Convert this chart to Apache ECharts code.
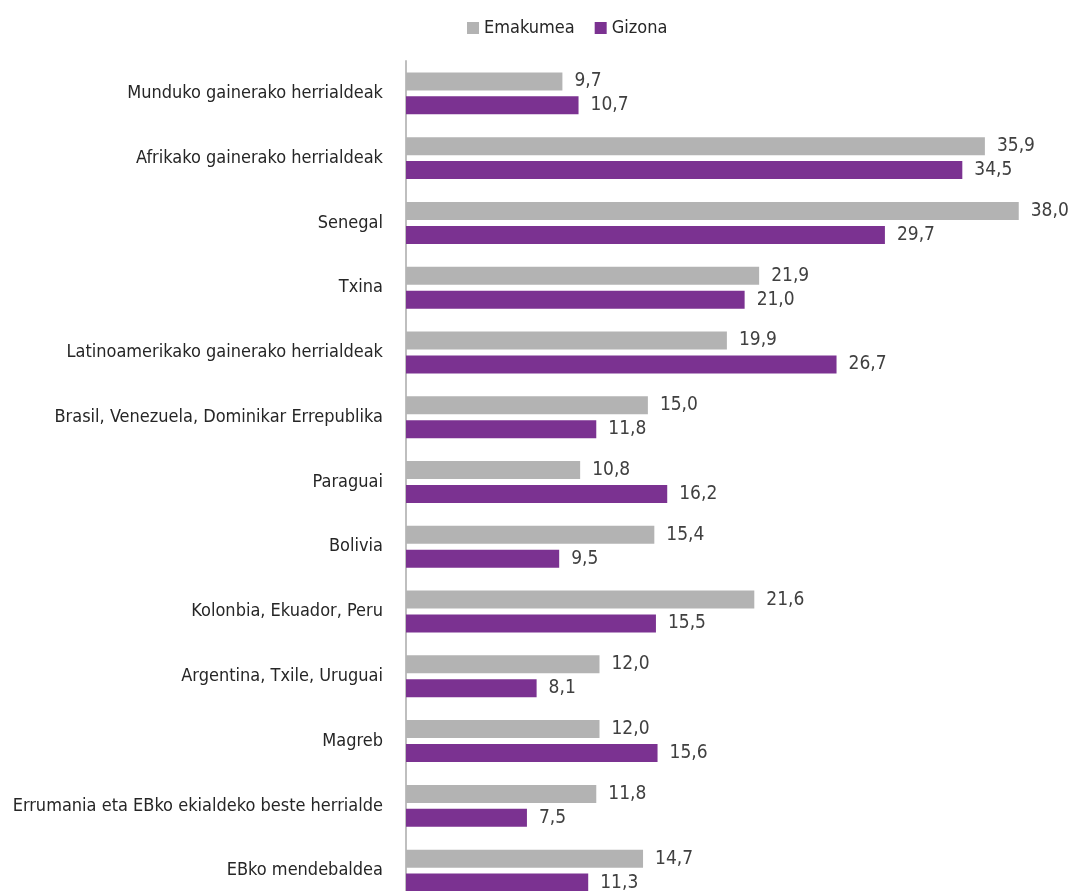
<!DOCTYPE html>
<html><head><meta charset="utf-8">
<script src="https://cdn.jsdelivr.net/npm/echarts@6/dist/echarts.min.js"></script>
<style>html,body{margin:0;padding:0;overflow:hidden;background:#fff}#c{width:1074px;height:910px}</style>
</head><body><div id="c"></div>
<script>
var categories = ["Munduko gainerako herrialdeak","Afrikako gainerako herrialdeak","Senegal","Txina","Latinoamerikako gainerako herrialdeak","Brasil, Venezuela, Dominikar Errepublika","Paraguai","Bolivia","Kolonbia, Ekuador, Peru","Argentina, Txile, Uruguai","Magreb","Errumania eta EBko ekialdeko beste herrialde","EBko mendebaldea"];
var emakumea = [9.7,35.9,38.0,21.9,19.9,15.0,10.8,15.4,21.6,12.0,12.0,11.8,14.7];
var gizona = [10.7,34.5,29.7,21.0,26.7,11.8,16.2,9.5,15.5,8.1,15.6,7.5,11.3];
var seriesNames = ["Emakumea","Gizona"];
var FONT = "'DejaVu Sans Condensed','Liberation Sans Narrow',sans-serif";
var chart = echarts.init(document.getElementById('c'), null, {renderer:'canvas'});
var fmt = function(p){ return p.value.toFixed(1).replace('.', ','); };
chart.setOption({
  animation:false,
  textStyle:{fontFamily:FONT},
  legend:{top:14,left:462,itemWidth:12,itemHeight:12,itemGap:20,icon:'rect',
    textStyle:{fontFamily:FONT,fontSize:18,color:'#262626'},data:seriesNames},
  grid:{left:406,right:23,top:61,bottom:7,containLabel:false,outerBoundsMode:'none'},
  xAxis:{type:'value',min:0,max:40,show:false},
  yAxis:{type:'category',inverse:true,data:categories,
    axisLine:{show:true,lineStyle:{color:'#BFBFBF',width:2}},axisTick:{show:false},
    axisLabel:{fontFamily:FONT,fontSize:18,color:'#262626',margin:23}},
  series:[
    {name:seriesNames[0],type:'bar',data:emakumea,barWidth:18,barGap:'33%',
      itemStyle:{color:'#B3B3B3'},
      label:{show:true,position:'right',distance:12,formatter:fmt,fontFamily:FONT,fontSize:19,color:'#404040'}},
    {name:seriesNames[1],type:'bar',data:gizona,barWidth:18,
      itemStyle:{color:'#7B3291'},
      label:{show:true,position:'right',distance:12,formatter:fmt,fontFamily:FONT,fontSize:19,color:'#404040'}}
  ]
});
</script></body></html>
